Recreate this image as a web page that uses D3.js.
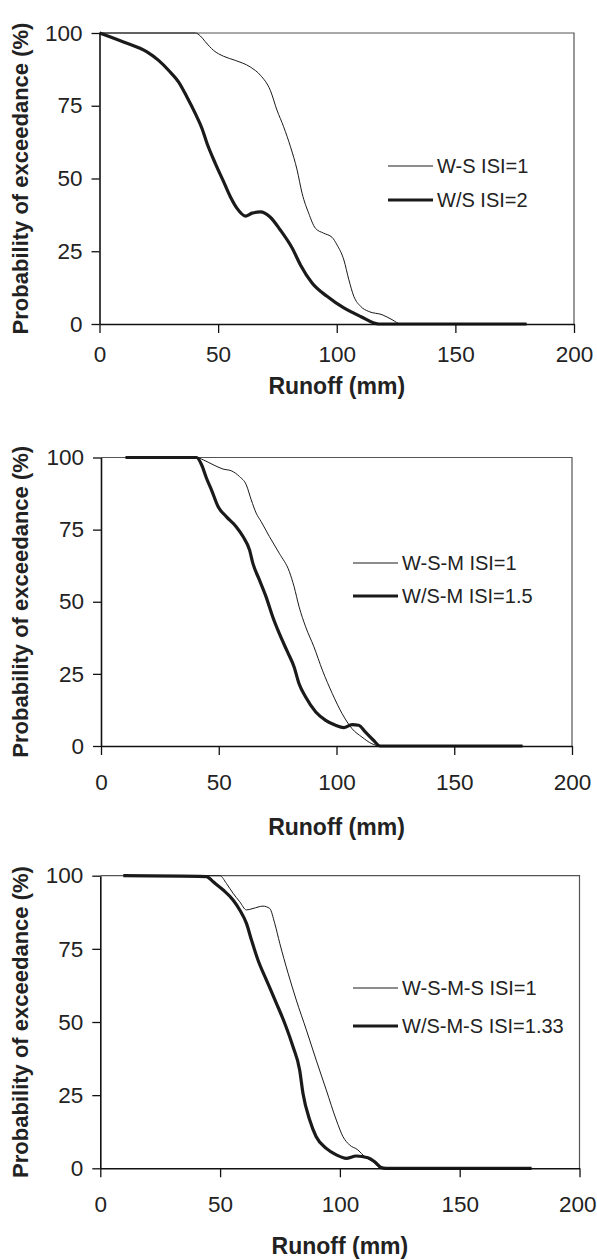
<!DOCTYPE html>
<html lang="en">
<head>
<meta charset="UTF-8">
<title>Probability of exceedance</title>
<script src="https://d3js.org/d3.v7.min.js"></script>
<style>
  body { margin: 0; background: #fff; }
  svg { display: block; }
  text { font-family: "Liberation Sans", Arial, sans-serif; fill: #222; }
  .tick text { font-size: 22.5px; }
  .title { font-size: 22px; font-weight: bold; }
  .xtitle { font-size: 23px; }
  .leg { font-size: 20px; }
</style>
</head>
<body>
<svg width="597" height="1260"></svg>
<script>
const xTicks = [0, 50, 100, 150, 200];
const yTicks = [0, 25, 50, 75, 100];

// panel 1
const p1Names = ["W-S ISI=1", "W/S ISI=2"];
const p1ThinX = [0, 40.4, 42.5, 44.6, 48.1, 52.3, 57.2, 63.6, 67.8, 72, 74.8, 77.6, 80.5, 83.3, 85.4, 88.2, 91, 94.5, 98, 100.1, 103, 105.1, 107.2, 110, 113.5, 119.1, 123.3, 127, 180];
const p1ThinY = [100, 100, 99, 97, 94, 92, 90.6, 88.3, 85.5, 80.3, 73.5, 67.8, 60.9, 52.9, 44.9, 38, 32.9, 31.2, 29.8, 27.2, 22, 15.2, 9.5, 6.1, 4.3, 3.2, 1.5, 0, 0];
const p1ThickX = [0, 10.1, 20, 24.9, 29.1, 33.3, 36.8, 40.4, 43.2, 45.3, 48.8, 52.3, 55.1, 57.9, 61.5, 64.3, 67.8, 72, 76.2, 81.2, 84.7, 89.6, 95.9, 103, 110, 117.7, 180];
const p1ThickY = [100, 96.9, 93.5, 90.6, 87.2, 83.2, 78.1, 72.3, 67.2, 62.1, 55.2, 48.9, 43.8, 39.8, 37.1, 38.1, 38.5, 36.7, 32.3, 26.1, 20.3, 14.1, 9.5, 5.5, 2.6, 0, 0];

// panel 2
const p2Names = ["W-S-M ISI=1", "W/S-M ISI=1.5"];
const p2ThinX = [10.4, 40.6, 43.4, 47.6, 51.8, 55.3, 58.8, 61.7, 63.8, 65.9, 68, 71.5, 75.7, 80, 82, 84.1, 86.9, 90.4, 94, 98.2, 102.4, 106.6, 110.8, 115, 118.5, 179];
const p2ThinY = [100, 100, 99.2, 97.5, 96, 95.4, 93.4, 90.5, 85.3, 80.7, 77.8, 72.6, 66.8, 60.4, 55.2, 48.3, 41.3, 34.4, 26.3, 18.2, 11.2, 6, 3.1, 0.8, 0, 0];
const p2ThickX = [10.4, 40.6, 42.7, 44.8, 46.9, 49.7, 53.2, 57.4, 60.3, 63.1, 64.5, 67.3, 70.1, 72.9, 75.7, 79.2, 82, 84.1, 86.9, 91.2, 95.4, 99.6, 103.1, 106.6, 109.4, 112.2, 115.7, 118.5, 179];
const p2ThickY = [100, 100, 97.5, 92.8, 88.8, 83, 79.5, 76, 72.6, 67.9, 63.3, 57.5, 51.7, 44.8, 39, 32.6, 27.4, 21.6, 17, 11.8, 8.9, 7.2, 6.4, 7.4, 7.2, 4.9, 2, 0, 0];

// panel 3
const p3Names = ["W-S-M-S ISI=1", "W/S-M-S ISI=1.33"];
const p3ThinX = [9.6, 49.9, 52.6, 55.4, 58.2, 61, 63.75, 67.9, 70.7, 72.8, 74.9, 78.4, 81.8, 86, 90.1, 94.3, 98.5, 101.3, 104, 107.5, 110.3, 113.8, 117.2, 180];
const p3ThinY = [100, 100, 97.4, 94, 91.1, 88.3, 88.8, 89.6, 88.8, 83.7, 76.9, 66.6, 57.5, 47.3, 37, 26.8, 16.5, 10.8, 8, 6.3, 4, 2.3, 0, 0];
const p3ThickX = [9.6, 44.3, 47.1, 51.3, 55.4, 58.2, 61, 63.1, 65.8, 69.3, 73.5, 77, 80.4, 83.2, 84.6, 87.4, 90.1, 94.3, 98.5, 102.6, 106.8, 111.7, 114.4, 117.2, 119.3, 180];
const p3ThickY = [100, 99.7, 97.9, 95.1, 91.7, 88.3, 83.7, 78, 71.2, 64.4, 56.4, 49.5, 41.6, 33.6, 25.6, 16.5, 10.8, 6.8, 4.6, 3.4, 4.2, 3.6, 2.3, 0.3, 0, 0];

const xTitle = "Runoff (mm)";
const yTitle = "Probability of exceedance (%)";

const svg = d3.select("svg");
const W = +svg.attr("width");

function drawPanel(p) {
  const x = d3.scaleLinear().domain([0, 200]).range([p.left, p.right]);
  const y = d3.scaleLinear().domain([0, 100]).range([p.bottom, p.top]);
  const g = svg.append("g");

  // frame top/right
  g.append("path")
    .attr("d", `M${p.left},${p.top}H${p.right}V${p.bottom}`)
    .attr("fill", "none").attr("stroke", "#555").attr("stroke-width", 1.2);

  const line = d3.line()
    .x(d => x(d[0])).y(d => y(d[1]))
    .curve(d3.curveMonotoneX);

  const series = [
    {xs: p.thinX, ys: p.thinY, w: 1},
    {xs: p.thickX, ys: p.thickY, w: 3.2}
  ];
  series.forEach(s => {
    g.append("path")
      .datum(d3.zip(s.xs, s.ys))
      .attr("d", line)
      .attr("fill", "none")
      .attr("stroke", "#1a1a1a")
      .attr("stroke-width", s.w)
      .attr("stroke-linejoin", "round");
  });

  const xa = g.append("g")
    .attr("transform", `translate(0,${p.bottom})`)
    .call(d3.axisBottom(x).tickValues(xTicks).tickSize(9).tickSizeOuter(0).tickPadding(p.xPad));
  const ya = g.append("g")
    .attr("transform", `translate(${p.left},0)`)
    .call(d3.axisLeft(y).tickValues(yTicks).tickSize(8).tickSizeOuter(0).tickPadding(9));
  [xa, ya].forEach(a => {
    a.select(".domain").attr("stroke", "#111").attr("stroke-width", 1.6);
    a.selectAll(".tick line").attr("stroke", "#111").attr("stroke-width", 1.3);
    a.selectAll(".tick text").attr("fill", "#222");
    a.attr("font-family", null).attr("font-size", null);
  });
  // keep the last tick label inside the page
  xa.selectAll(".tick text").each(function() {
    const b = this.getBBox();
    const tx = x(+this.textContent);
    const over = tx + b.x + b.width - (W - 1);
    if (over > 0) d3.select(this).attr("dx", -over);
  });

  g.append("text").attr("class", "title xtitle")
    .attr("x", (p.left + p.right) / 2).attr("y", p.titleY)
    .attr("text-anchor", "middle").text(xTitle);
  g.append("text").attr("class", "title")
    .attr("transform", `translate(28,${(p.top + p.bottom) / 2}) rotate(-90)`)
    .attr("text-anchor", "middle").text(yTitle);

  // legend
  const legW = [1, 3.2];
  p.names.forEach((n, i) => {
    const ly = p.legY[i];
    g.append("line")
      .attr("x1", p.legX).attr("x2", p.legX + 45)
      .attr("y1", ly).attr("y2", ly)
      .attr("stroke", "#1a1a1a").attr("stroke-width", legW[i]);
    g.append("text").attr("class", "leg")
      .attr("x", p.legX + 49).attr("y", ly)
      .attr("dy", "0.35em").text(n);
  });
}

drawPanel({left: 99.5, right: 574, top: 33, bottom: 324, xPad: 13, titleY: 394,
  thinX: p1ThinX, thinY: p1ThinY, thickX: p1ThickX, thickY: p1ThickY,
  names: p1Names, legX: 388, legY: [166, 200]});
drawPanel({left: 101, right: 572, top: 457.5, bottom: 746, xPad: 19, titleY: 835,
  thinX: p2ThinX, thinY: p2ThinY, thickX: p2ThickX, thickY: p2ThickY,
  names: p2Names, legX: 353, legY: [563, 596]});
drawPanel({left: 100.3, right: 579.5, top: 875.7, bottom: 1168.3, xPad: 19, titleY: 1254,
  thinX: p3ThinX, thinY: p3ThinY, thickX: p3ThickX, thickY: p3ThickY,
  names: p3Names, legX: 353, legY: [988, 1026]});
</script>
</body>
</html>
